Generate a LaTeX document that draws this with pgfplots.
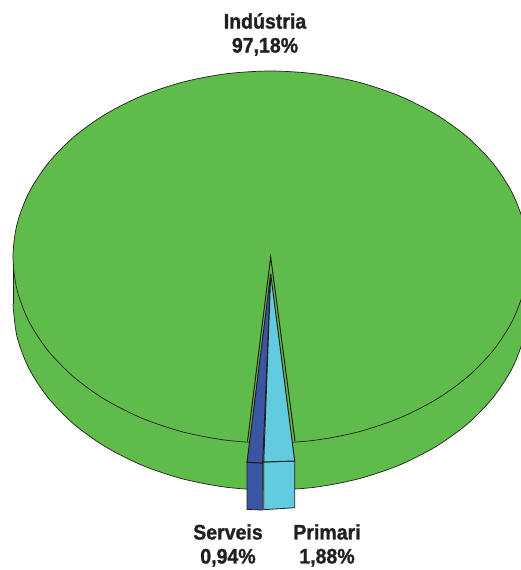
\documentclass[border=0pt]{standalone}
\usepackage{pgfplots}
\pgfplotsset{compat=1.18}
\usepackage{fontspec}
\setmainfont{Liberation Sans}[FakeStretch=0.93,BoldFeatures={FakeBold=1.2}]
\definecolor{verd}{HTML}{5FBB4A}
\definecolor{blaufosc}{HTML}{3A55A4}
\definecolor{blauclar}{HTML}{62CBDF}
\definecolor{tinta}{HTML}{231F20}

\pgfplotstableread{
x y
528 257
524.1 224.7
512.5 193.4
493.5 164
467.8 137.4
436 114.5
399.3 95.9
358.6 82.2
315.2 73.8
270.5 71
226 73.8
182.4 82.2
141.7 95.9
105 114.5
73.2 137.4
47.5 164
28.5 193.4
16.9 224.7
13 257
16.9 289.3
28.5 320.6
47.5 350
73.2 376.6
105 399.5
141.7 418.1
182.4 431.8
226 440.2
270.5 443
315.2 440.2
358.6 431.8
399.3 418.1
436 399.5
467.8 376.6
493.5 350
512.5 320.6
524.1 289.3
528 257
}\topface

\pgfplotstableread{
x y
13 304
16.9 336.3
28.5 367.6
47.5 397
73.2 423.6
105 446.5
141.7 465.1
182.4 478.8
226 487.2
270.5 490
315.2 487.2
358.6 478.8
399.3 465.1
436 446.5
467.8 423.6
493.5 397
512.5 367.6
524.1 336.3
528 304
}\rimface

\begin{document}
\begin{tikzpicture}
\useasboundingbox (0,0) rectangle (521pt,570pt);
\begin{axis}[
  width=521pt,height=570pt,scale only axis,
  xmin=0,xmax=521,ymin=0,ymax=570,y dir=reverse,
  axis lines=none,
]
% rim first, then the top of the big slice
\addplot[fill=verd,draw=tinta,line width=0.7pt,smooth] table {\rimface};
\addplot[fill=verd,draw=none,forget plot] coordinates {(13,257) (13,304) (528,304) (528,257)};
\addplot[draw=tinta,line width=0.7pt] coordinates {(13,257) (13,304)};
\addplot[fill=verd,draw=tinta,line width=0.7pt,smooth] table {\topface};
% cut in the big slice
\addplot[fill=verd,draw=tinta,line width=1pt] coordinates {(247.5,441.5) (270.7,257) (295,441)};
% front faces of the two pulled-out slices
\addplot[fill=blaufosc,draw=tinta,line width=0.8pt] coordinates {(247,462.3) (262.7,463) (262.7,510) (247,509.5) (247,462.3)};
\addplot[fill=blauclar,draw=tinta,line width=0.8pt] coordinates {(263.7,462) (294.7,461) (294.7,507.7) (263.7,509.7) (263.7,462)};
% tops of the two pulled-out slices
\addplot[fill=blaufosc,draw=tinta,line width=1pt] coordinates {(270.7,274) (247,462.3) (262.7,463) (270.7,274)};
\addplot[fill=blauclar,draw=tinta,line width=1pt] coordinates {(270.7,274) (263.7,462) (294.7,461) (270.7,274)};
\node[font=\fontsize{21}{24}\selectfont\bfseries,text=tinta,align=center,inner sep=0pt] at (axis cs:265,34.5) {Indústria\\97,18\%};
\node[font=\fontsize{21}{24}\selectfont\bfseries,text=tinta,align=center,inner sep=0pt] at (axis cs:228,545.5) {Serveis\\0,94\%};
\node[font=\fontsize{21}{24}\selectfont\bfseries,text=tinta,align=center,inner sep=0pt] at (axis cs:327,545.5) {Primari\\1,88\%};
\end{axis}
\end{tikzpicture}
\end{document}
